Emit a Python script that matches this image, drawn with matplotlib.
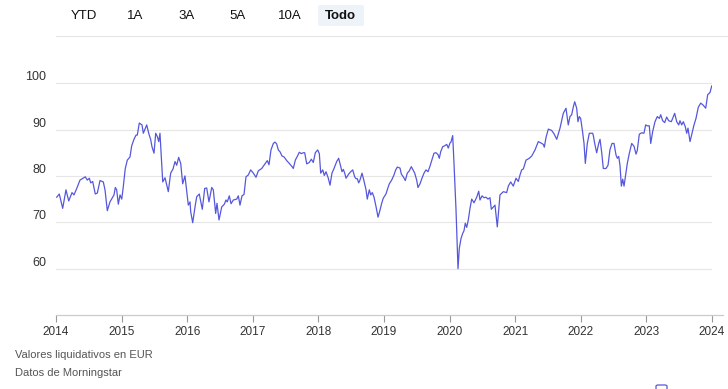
import matplotlib
matplotlib.use("Agg")
import matplotlib.pyplot as plt
from matplotlib.patches import FancyBboxPatch

plt.rcParams['font.family'] = ['Liberation Sans', 'DejaVu Sans']

# fecha en años decimales y valor liquidativo (EUR)
years = [
    2014.011, 2014.050, 2014.102, 2014.152, 2014.194, 2014.244, 2014.274, 2014.316, 2014.366, 2014.447,
    2014.477, 2014.508, 2014.529, 2014.559, 2014.599, 2014.630, 2014.671, 2014.721, 2014.747, 2014.782,
    2014.823, 2014.884, 2014.904, 2014.925, 2014.950, 2014.976, 2015.002, 2015.026, 2015.056, 2015.087,
    2015.128, 2015.154, 2015.189, 2015.220, 2015.239, 2015.270, 2015.311, 2015.331, 2015.383, 2015.413,
    2015.444, 2015.463, 2015.494, 2015.520, 2015.544, 2015.566, 2015.585, 2015.627, 2015.662, 2015.712,
    2015.748, 2015.784, 2015.814, 2015.840, 2015.870, 2015.901, 2015.931, 2015.966, 2016.017, 2016.043,
    2016.053, 2016.084, 2016.119, 2016.145, 2016.184, 2016.230, 2016.267, 2016.297, 2016.332, 2016.374,
    2016.398, 2016.434, 2016.454, 2016.485, 2016.526, 2016.566, 2016.591, 2016.611, 2016.642, 2016.668,
    2016.703, 2016.755, 2016.779, 2016.805, 2016.835, 2016.866, 2016.896, 2016.931, 2016.968, 2017.008,
    2017.049, 2017.084, 2017.136, 2017.186, 2017.221, 2017.247, 2017.277, 2017.313, 2017.338, 2017.364,
    2017.389, 2017.415, 2017.445, 2017.476, 2017.517, 2017.556, 2017.598, 2017.617, 2017.648, 2017.678,
    2017.709, 2017.739, 2017.770, 2017.791, 2017.822, 2017.861, 2017.892, 2017.922, 2017.953, 2017.989,
    2018.014, 2018.035, 2018.066, 2018.090, 2018.116, 2018.151, 2018.177, 2018.207, 2018.238, 2018.279,
    2018.309, 2018.329, 2018.360, 2018.380, 2018.401, 2018.421, 2018.462, 2018.492, 2018.523, 2018.553,
    2018.573, 2018.593, 2018.614, 2018.634, 2018.665, 2018.695, 2018.726, 2018.745, 2018.776, 2018.797,
    2018.822, 2018.848, 2018.878, 2018.909, 2018.939, 2018.965, 2018.989, 2019.030, 2019.050, 2019.081,
    2019.117, 2019.152, 2019.178, 2019.203, 2019.244, 2019.264, 2019.294, 2019.325, 2019.355, 2019.386,
    2019.416, 2019.438, 2019.468, 2019.498, 2019.518, 2019.549, 2019.579, 2019.610, 2019.640, 2019.671,
    2019.701, 2019.727, 2019.762, 2019.793, 2019.823, 2019.843, 2019.864, 2019.895, 2019.925, 2019.956,
    2019.980, 2020.006, 2020.021, 2020.047, 2020.067, 2020.098, 2020.128, 2020.148, 2020.174, 2020.200,
    2020.220, 2020.239, 2020.261, 2020.285, 2020.311, 2020.337, 2020.372, 2020.413, 2020.444, 2020.463,
    2020.494, 2020.524, 2020.555, 2020.585, 2020.616, 2020.636, 2020.666, 2020.692, 2020.727, 2020.768,
    2020.819, 2020.870, 2020.895, 2020.931, 2020.971, 2021.012, 2021.047, 2021.073, 2021.099, 2021.124,
    2021.165, 2021.215, 2021.252, 2021.302, 2021.352, 2021.393, 2021.428, 2021.444, 2021.470, 2021.505,
    2021.556, 2021.591, 2021.633, 2021.683, 2021.733, 2021.774, 2021.794, 2021.809, 2021.835, 2021.861,
    2021.886, 2021.907, 2021.937, 2021.957, 2021.977, 2021.998, 2022.029, 2022.049, 2022.069, 2022.099,
    2022.130, 2022.181, 2022.191, 2022.216, 2022.242, 2022.273, 2022.293, 2022.319, 2022.343, 2022.384,
    2022.415, 2022.445, 2022.476, 2022.506, 2022.537, 2022.557, 2022.578, 2022.598, 2022.618, 2022.639,
    2022.659, 2022.689, 2022.709, 2022.740, 2022.776, 2022.811, 2022.842, 2022.861, 2022.892, 2022.929,
    2022.963, 2022.989, 2023.014, 2023.044, 2023.066, 2023.096, 2023.131, 2023.166, 2023.197, 2023.218,
    2023.248, 2023.279, 2023.309, 2023.340, 2023.380, 2023.431, 2023.462, 2023.493, 2023.512, 2023.538,
    2023.563, 2023.593, 2023.614, 2023.634, 2023.665, 2023.695, 2023.726, 2023.756, 2023.791, 2023.828,
    2023.863, 2023.904, 2023.934, 2023.970, 2023.996,
]
nav = [
    75.4, 76.1, 73.0, 77.0, 74.6, 76.4, 75.9, 77.3, 79.1, 79.8,
    79.1, 79.5, 78.5, 78.8, 76.1, 76.3, 79.0, 78.7, 77.0, 72.5,
    74.4, 75.9, 77.5, 77.0, 73.9, 75.9, 75.0, 77.7, 81.6, 83.4,
    84.1, 86.5, 87.9, 88.8, 88.8, 91.4, 91.0, 89.2, 91.0, 89.2,
    87.8, 86.3, 84.9, 89.2, 88.5, 87.4, 89.2, 78.7, 79.6, 76.6,
    80.6, 81.5, 83.1, 82.3, 84.0, 82.7, 78.3, 80.0, 73.7, 74.4,
    72.3, 69.9, 73.3, 75.5, 76.1, 72.8, 77.3, 77.4, 74.4, 77.5,
    77.0, 71.9, 74.1, 70.5, 73.3, 73.9, 74.8, 74.4, 75.7, 74.0,
    74.8, 75.0, 75.7, 73.7, 75.7, 76.0, 79.8, 80.2, 81.3, 80.6,
    79.7, 81.1, 81.6, 82.6, 83.3, 82.4, 85.6, 87.0, 87.3, 86.9,
    85.6, 85.2, 84.3, 84.1, 83.3, 82.7, 82.0, 81.6, 83.4, 84.2,
    85.1, 84.8, 85.0, 85.0, 82.6, 82.9, 83.6, 82.9, 85.0, 85.6,
    84.8, 80.6, 81.3, 80.1, 80.9, 79.5, 78.0, 80.6, 81.6, 83.1,
    83.8, 82.7, 80.9, 81.4, 80.6, 79.5, 80.4, 80.9, 81.3, 79.8,
    79.4, 79.4, 78.5, 79.1, 80.6, 78.9, 77.0, 75.0, 77.0, 75.9,
    76.4, 75.4, 73.4, 71.1, 72.6, 74.1, 75.2, 76.1, 77.0, 78.3,
    79.1, 80.2, 81.3, 81.9, 81.7, 80.4, 79.8, 79.0, 80.6, 81.1,
    82.0, 81.4, 80.6, 79.1, 77.5, 78.3, 79.5, 80.6, 81.3, 80.9,
    82.1, 83.3, 84.9, 85.0, 84.6, 83.8, 85.2, 86.3, 86.5, 86.8,
    86.0, 87.1, 87.3, 88.7, 82.7, 72.6, 60.0, 64.4, 66.5, 67.6,
    68.2, 69.8, 68.9, 70.5, 73.0, 75.0, 74.2, 75.4, 76.7, 74.8,
    75.7, 75.3, 75.4, 75.0, 75.3, 72.8, 73.3, 73.7, 69.0, 75.9,
    76.6, 76.4, 77.8, 78.7, 77.8, 79.5, 78.8, 80.2, 81.3, 81.5,
    83.4, 83.8, 84.3, 85.6, 87.4, 87.1, 86.8, 86.2, 88.3, 90.1,
    89.8, 89.1, 87.9, 90.3, 93.5, 94.6, 92.5, 91.0, 92.8, 93.2,
    94.9, 96.0, 94.6, 91.7, 92.8, 92.4, 89.3, 87.0, 82.7, 87.0,
    89.2, 89.2, 88.7, 86.7, 85.0, 87.0, 87.9, 85.0, 81.6, 81.6,
    82.3, 85.7, 87.0, 87.0, 84.5, 83.8, 84.2, 82.2, 77.8, 79.3,
    77.8, 80.8, 82.7, 84.9, 87.0, 86.4, 84.7, 85.5, 89.0, 89.3,
    89.2, 91.0, 90.8, 90.8, 87.0, 89.6, 91.7, 92.8, 92.4, 93.2,
    91.9, 91.5, 92.7, 91.9, 91.7, 93.5, 91.7, 91.0, 91.9, 91.0,
    91.7, 90.6, 89.2, 90.3, 87.4, 89.2, 91.0, 92.4, 94.8, 95.7,
    95.3, 94.6, 97.5, 98.0, 99.4,
]

year_ticks = list(range(2014, 2025))
value_ticks = [60, 70, 80, 90, 100]
buttons = ["YTD", "1A", "3A", "5A", "10A", "Todo"]
button_x = [84, 135, 187, 238, 290, 340]

W, H = 728, 389
fig = plt.figure(figsize=(W / 100, H / 100), dpi=100)

# ejes: x 56..712 px, y 60..315 px
ax = fig.add_axes([56 / W, 1 - 315 / H, (712 - 56) / W, (315 - 60) / H])
ax.plot(years, nav, color='#5658dc', lw=0.9, solid_joinstyle='round')
ax.set_xlim(2014, 2024)
ax.set_ylim(50, 105)

ax.set_yticks(value_ticks)
ax.set_yticklabels([str(v) for v in value_ticks])
ax.set_xticks(year_ticks)
ax.set_xticklabels([str(y) for y in year_ticks])
ax.grid(axis='y', color='#e6e6e6', lw=0.8)
ax.set_axisbelow(True)
for s in ['top', 'right', 'left']:
    ax.spines[s].set_visible(False)
ax.spines['bottom'].set_color('#cccccc')
ax.spines['bottom'].set_linewidth(0.9)
ax.tick_params(axis='y', length=0, pad=7, labelsize=9, labelcolor='#333333')
ax.tick_params(axis='x', length=5, width=0.8, color='#999999', pad=3,
               labelsize=8.5, labelcolor='#333333')
for lab in ax.get_yticklabels():
    lab.set_verticalalignment('bottom')

# el eje inferior sigue un poco más a la derecha
fig.add_artist(plt.Line2D([712 / W, 723 / W], [1 - 315 / H] * 2, color='#cccccc', lw=0.9))
# línea superior de separación
fig.add_artist(plt.Line2D([56 / W, 1], [1 - 36 / H] * 2, color='#e6e6e6', lw=0.8))

# botones de rango
bg = FancyBboxPatch((318 / W, 1 - 26 / H), 46 / W, 21 / H,
                    boxstyle="round,pad=0,rounding_size=0.004",
                    transform=fig.transFigure, fc='#eef2f9', ec='none')
fig.add_artist(bg)
for label, x in zip(buttons, button_x):
    fig.text(x / W, 1 - 16 / H, label, ha='center', va='center', fontsize=9.5,
             color='#111111', fontweight='bold' if label == "Todo" else 'normal')

fig.text(15 / W, 1 - 355 / H, "Valores liquidativos en EUR", fontsize=8,
         color='#555555', va='center')
fig.text(15 / W, 1 - 373 / H, "Datos de Morningstar", fontsize=8,
         color='#555555', va='center')

# icono de leyenda cortado abajo
leg = FancyBboxPatch((656 / W, -4 / H), 11 / W, 8 / H,
                     boxstyle="round,pad=0,rounding_size=0.003",
                     transform=fig.transFigure, fc='white', ec='#5658dc', lw=0.9)
fig.add_artist(leg)

fig.savefig("out.png", dpi=100)
